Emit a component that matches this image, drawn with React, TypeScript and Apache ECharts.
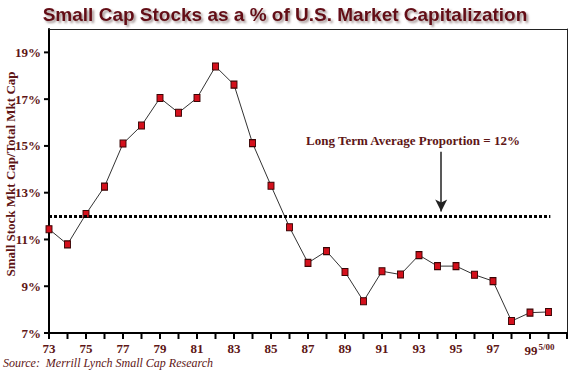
import React, { useEffect, useRef } from "react";
import * as echarts from "echarts";

const years = [73, 74, 75, 76, 77, 78, 79, 80, 81, 82, 83, 84, 85, 86, 87, 88, 89, 90, 91, 92, 93, 94, 95, 96, 97, 98, 99, 100];
const smallCapShare = [11.44, 10.79, 12.09, 13.26, 15.1, 15.87, 17.05, 16.42, 17.05, 18.4, 17.62, 15.12, 13.3, 11.52, 10.0, 10.5, 9.61, 8.36, 9.64, 9.5, 10.33, 9.86, 9.86, 9.49, 9.22, 7.51, 7.87, 7.9];
const xTickYears = [73, 74, 75, 76, 77, 78, 79, 80, 81, 82, 83, 84, 85, 86, 87, 88, 89, 90, 91, 92, 93, 94, 95, 96, 97, 98, 99, 100, 101];
const yTickValues = [7, 9, 11, 13, 15, 17, 19];
const yTickMax = 19;
const xLabelYears = [73, 75, 77, 79, 81, 83, 85, 87, 89, 91, 93, 95, 97, 99];
const longTermAverage = 12;
const averageEnd = 100.1;
const arrowYear = 94.2;
const arrowTop = 14.75;
const arrowTip = 12.2;
const X_MIN = 73;
const Y_MIN = 7;

const TEXT = "#5e1616";
const SERIF = "'Liberation Serif', 'DejaVu Serif', serif";

const frameAxis = {
  type: "value",
  splitLine: { show: false },
  axisTick: { show: false },
  axisLabel: { show: false },
  axisLine: { show: true, onZero: false, lineStyle: { color: "#222", width: 1 } },
};

export default function App() {
  const ref = useRef<HTMLDivElement>(null);
  useEffect(() => {
    if (!ref.current) return;
    const chart = echarts.init(ref.current, undefined, { renderer: "svg" });
    chart.setOption({
      animation: false,
      backgroundColor: "#ffffff",
      title: {
        text: "Small Cap Stocks as a % of U.S. Market Capitalization",
        left: "center",
        top: 0,
        textStyle: {
          fontFamily: "'Liberation Sans', Arial, sans-serif",
          fontSize: 19,
          fontWeight: "bold",
          color: "#640d16",
          textShadowColor: "rgba(90,60,60,0.55)",
          textShadowOffsetX: 2,
          textShadowOffsetY: 2,
          textShadowBlur: 2,
        },
      },
      grid: { left: 49, right: 3, top: 29, bottom: 37 },
      xAxis: [
        {
          type: "value",
          min: 73,
          max: 101,
          interval: 1,
          position: "bottom",
          splitLine: { show: false },
          axisLine: { show: true, onZero: false, lineStyle: { color: "#000", width: 2 } },
          axisTick: { show: false },
          axisLabel: {
            margin: 9,
            fontFamily: SERIF,
            fontSize: 13,
            fontWeight: "bold",
            color: TEXT,
            formatter: (v: number) =>
              xLabelYears.indexOf(v) < 0 ? "" : v === 99 ? "{p|}{n|99}{s|5/00}" : "{n|" + v + "}",
            rich: {
              n: { fontFamily: SERIF, fontSize: 13, fontWeight: "bold", color: TEXT },
              p: { width: 19 },
              s: { fontFamily: SERIF, fontSize: 9, fontWeight: "bold", color: TEXT, padding: [0, 0, 8, 1] },
            },
          },
        },
        { ...frameAxis, min: 73, max: 101, position: "top" },
      ],
      yAxis: [
        {
          type: "value",
          min: 7,
          max: 20,
          interval: 2,
          position: "left",
          splitLine: { show: false },
          axisLine: { show: true, onZero: false, lineStyle: { color: "#000", width: 2 } },
          axisTick: { show: false },
          axisLabel: {
            margin: 8,
            fontFamily: SERIF,
            fontSize: 13,
            fontWeight: "bold",
            color: TEXT,
            formatter: (v: number) => (v > yTickMax ? "" : v + "%"),
          },
        },
        { ...frameAxis, min: 7, max: 20, position: "right" },
      ],
      series: [
        {
          type: "custom",
          silent: true,
          clip: false,
          xAxisIndex: 0,
          yAxisIndex: 0,
          encode: { x: 0, y: 1 },
          z: 5,
          data: xTickYears.map((y) => [y, Y_MIN]),
          renderItem: (_p: any, api: any) => {
            const c = api.coord([api.value(0), api.value(1)]);
            return {
              type: "line",
              shape: { x1: c[0], y1: c[1], x2: c[0], y2: c[1] + 6 },
              style: { stroke: "#000", lineWidth: 2 },
            };
          },
        },
        {
          type: "custom",
          silent: true,
          clip: false,
          xAxisIndex: 0,
          yAxisIndex: 0,
          encode: { x: 0, y: 1 },
          z: 5,
          data: yTickValues.map((v) => [X_MIN, v]),
          renderItem: (_p: any, api: any) => {
            const c = api.coord([api.value(0), api.value(1)]);
            return {
              type: "line",
              shape: { x1: c[0] - 5, y1: c[1], x2: c[0], y2: c[1] },
              style: { stroke: "#000", lineWidth: 2 },
            };
          },
        },
        {
          type: "line",
          data: years.map((y, i) => [y, smallCapShare[i]]),
          symbol: "rect",
          symbolSize: [6, 7],
          lineStyle: { color: "#333", width: 1 },
          itemStyle: { color: "#d4101c", borderColor: "#3a0505", borderWidth: 1 },
          z: 3,
          markLine: {
            silent: true,
            symbol: ["none", "none"],
            label: { show: false },
            data: [
              [
                { coord: [73, longTermAverage], lineStyle: { color: "#000", width: 3, type: [3, 2] } },
                { coord: [averageEnd, longTermAverage] },
              ],
              [
                { coord: [arrowYear, arrowTop], symbol: "none", lineStyle: { color: "#222", width: 1.5, type: "solid" } },
                { coord: [arrowYear, arrowTip], symbol: "arrow", symbolSize: [9, 12] },
              ],
            ],
          },
        },
      ],
      graphic: [
        {
          type: "text",
          x: 10,
          y: 174,
          rotation: Math.PI / 2,
          style: {
            text: "Small Stock Mkt Cap/Total Mkt Cap",
            fontFamily: SERIF,
            fontSize: 13,
            fontWeight: "bold",
            fill: TEXT,
            align: "center",
            verticalAlign: "middle",
          },
        },
        {
          type: "text",
          x: 413,
          y: 140,
          style: {
            text: "Long Term Average Proportion = 12%",
            fontFamily: SERIF,
            fontSize: 13,
            fontWeight: "bold",
            fill: TEXT,
            align: "center",
            verticalAlign: "middle",
          },
        },
        {
          type: "text",
          x: 3,
          y: 363,
          style: {
            text: "Source:  Merrill Lynch Small Cap Research",
            fontFamily: SERIF,
            fontSize: 12,
            fontStyle: "italic",
            fill: TEXT,
            align: "left",
            verticalAlign: "middle",
          },
        },
      ],
    });
    return () => chart.dispose();
  }, []);
  return <div ref={ref} style={{ position: "absolute", left: 0, top: 0, width: 570, height: 370 }} />;
}
